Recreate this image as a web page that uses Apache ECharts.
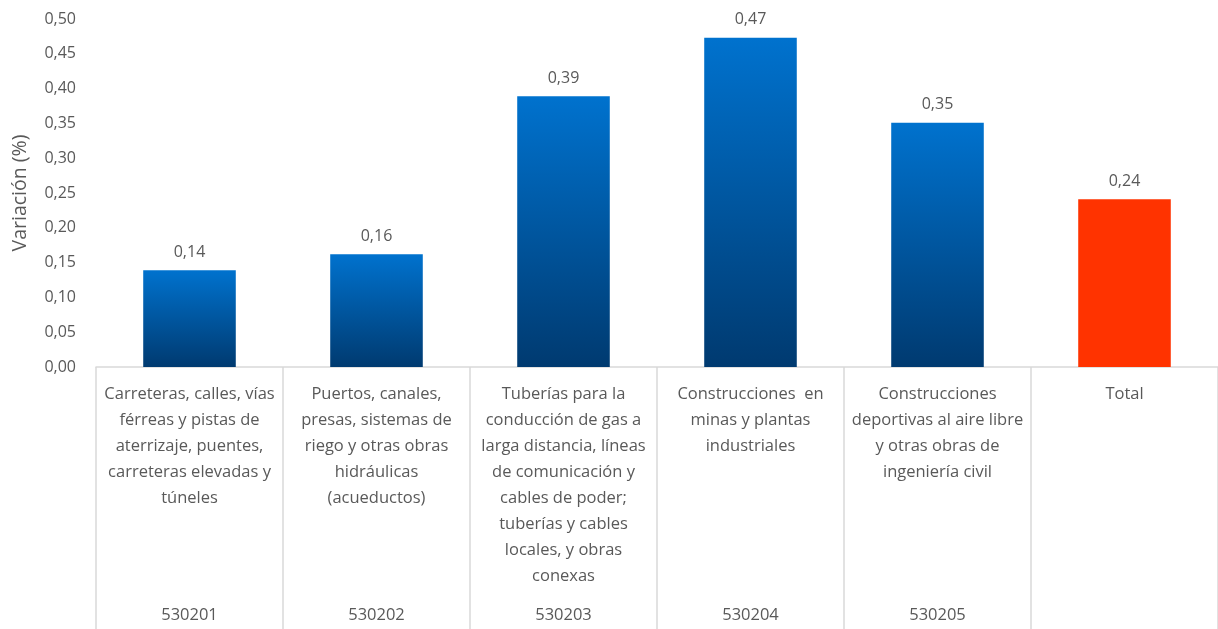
<!DOCTYPE html>
<html><head><meta charset="utf-8">
<script src="https://cdn.jsdelivr.net/npm/echarts@6/dist/echarts.min.js"></script>
<style>html,body{margin:0;padding:0;background:#fff}#c{width:1218px;height:629px}</style>
</head><body><div id="c"></div>
<script>
const categories = [
  "Carreteras, calles, vías\nférreas y pistas de\naterrizaje, puentes,\ncarreteras elevadas y\ntúneles",
  "Puertos, canales,\npresas, sistemas de\nriego y otras obras\nhidráulicas\n(acueductos)",
  "Tuberías para la\nconducción de gas a\nlarga distancia, líneas\nde comunicación y\ncables de poder;\ntuberías y cables\nlocales, y obras\nconexas",
  "Construcciones  en\nminas y plantas\nindustriales",
  "Construcciones\ndeportivas al aire libre\ny otras obras de\ningeniería civil",
  "Total"
];
const codes = ["530201", "530202", "530203", "530204", "530205", ""];
const values = [0.139, 0.162, 0.389, 0.473, 0.351, 0.241];
const totalIndex = 5;

const FONT = "'Open Sans', sans-serif";
const TXT = '#595959';
const chart = echarts.init(document.getElementById('c'));
const blueGrad = new echarts.graphic.LinearGradient(0, 0, 0, 1, [
  {offset: 0, color: '#0072CE'}, {offset: 1, color: '#003A70'}
]);
chart.setOption({
  animation: false,
  grid: {left: 96, right: -8, top: 19, bottom: 262, containLabel: false},
  xAxis: [{
    type: 'category', data: categories, position: 'bottom',
    axisLine: {show: true, lineStyle: {color: '#d9d9d9', width: 1.5}},
    axisTick: {show: true, interval: 0, length: 262, lineStyle: {color: '#d9d9d9', width: 1.5}},
    axisLabel: {interval: 0, margin: 14, color: TXT, fontFamily: FONT, fontSize: 16.5, lineHeight: 26, verticalAlign: 'top'}
  }, {
    type: 'category', data: codes, position: 'bottom', offset: 232,
    axisLine: {show: false}, axisTick: {show: false},
    axisLabel: {interval: 0, margin: 8, color: TXT, fontFamily: FONT, fontSize: 16.5}
  }],
  yAxis: {
    type: 'value', min: 0, max: 0.5, interval: 0.05,
    name: 'Variación (%)', nameLocation: 'middle', nameGap: 66,
    nameTextStyle: {color: TXT, fontFamily: FONT, fontSize: 19.5},
    splitLine: {show: false}, axisLine: {show: false}, axisTick: {show: false},
    axisLabel: {margin: 20, color: TXT, fontFamily: FONT, fontSize: 16,
      formatter: v => v.toFixed(2).replace('.', ',')}
  },
  series: [{
    type: 'bar', xAxisIndex: 0, barWidth: '49.5%',
    data: values.map((v, i) => ({value: v, itemStyle: {color: i === totalIndex ? '#FF3300' : blueGrad}})),
    label: {show: true, position: 'top', distance: 10, color: TXT, fontFamily: FONT, fontSize: 16,
      formatter: p => p.value.toFixed(2).replace('.', ',')}
  }]
});
</script></body></html>
